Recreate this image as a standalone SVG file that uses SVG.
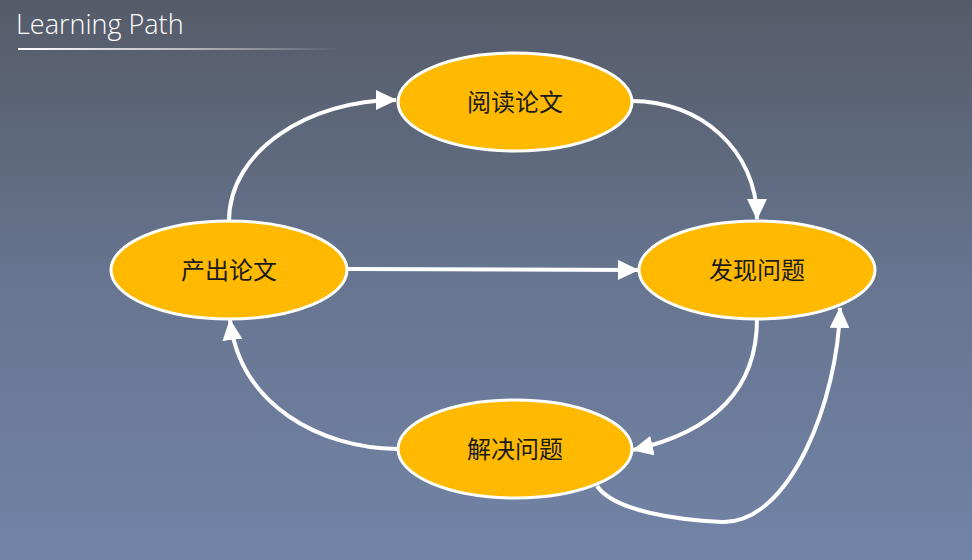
<svg xmlns="http://www.w3.org/2000/svg" width="972" height="560" viewBox="0 0 972 560">
<defs>
<linearGradient id="bg" x1="0" y1="0" x2="0" y2="1">
<stop offset="0" stop-color="#555b68"/>
<stop offset="0.5" stop-color="#677590"/>
<stop offset="1" stop-color="#7283a6"/>
</linearGradient>
<linearGradient id="ul" x1="0" y1="0" x2="1" y2="0">
<stop offset="0" stop-color="#ffffff" stop-opacity="1"/>
<stop offset="0.5" stop-color="#ffffff" stop-opacity="0.6"/>
<stop offset="1" stop-color="#ffffff" stop-opacity="0"/>
</linearGradient>
<marker id="ah" markerUnits="userSpaceOnUse" markerWidth="24" markerHeight="20" refX="20" refY="10" orient="auto">
<path d="M0,0 L21,10 L0,20 Z" fill="#ffffff"/>
</marker>
<style>
.node ellipse{fill:#FFBA00;stroke:#ffffff;stroke-width:3}
.node text{font-family:"Noto Sans CJK SC","Noto Sans",sans-serif;font-size:24px;fill:#1a1a1a;text-anchor:middle;dominant-baseline:central}
.conn path{fill:none;stroke:#ffffff;stroke-width:4;marker-end:url(#ah)}
</style>
</defs>
<rect x="0" y="0" width="972" height="560" fill="url(#bg)"/>
<g id="title">
<text x="16" y="34" font-family="'Open Sans','Noto Sans',sans-serif" font-weight="300" font-size="27" fill="#ffffff">Learning Path</text>
<rect x="18" y="48" width="322" height="2" fill="url(#ul)"/>
</g>
<g id="connectors" class="conn">
<path d="M229,221 C229,150 310,100 396,100"/>
<path d="M632,101 C700,101 757,150 757,219"/>
<path d="M348,269 L638,270"/>
<path d="M757,319 C757,400 700,435 633,450"/>
<path d="M597,486 C615,512 680,520 722,522 C790,524 838,400 840,308"/>
<path d="M397,449 C320,448 240,405 230,320"/>
</g>
<g id="n-read" class="node"><ellipse cx="515" cy="102" rx="117" ry="49"/><text x="515" y="100">阅读论文</text></g>
<g id="n-find" class="node"><ellipse cx="757" cy="270" rx="118" ry="49"/><text x="757" y="268">发现问题</text></g>
<g id="n-out" class="node"><ellipse cx="229" cy="270" rx="118" ry="49"/><text x="229" y="268">产出论文</text></g>
<g id="n-solve" class="node"><ellipse cx="515" cy="449" rx="117" ry="49"/><text x="515" y="447">解决问题</text></g>
</svg>
